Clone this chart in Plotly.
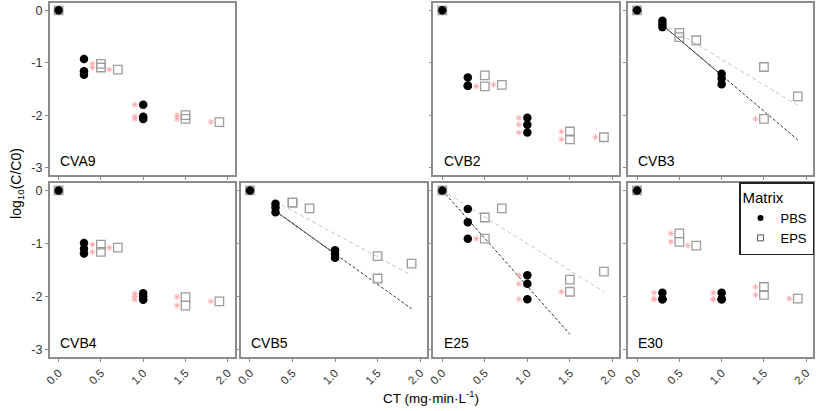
import plotly.graph_objects as go

# ---------------- data ----------------
PANELS = ["CVA9", "CVB2", "CVB3", "CVB4", "CVB5", "E25", "E30"]

PBS_CT = [0, 0.3, 0.3, 0.3, 1.0, 1.0, 1.0]
EPS_CT = [0, 0.5, 0.5, 0.7, 1.5, 1.5, 1.9]

PBS_LOG = {
    "CVA9": [0, -0.93, -1.16, -1.23, -1.80, -2.03, -2.07],
    "CVB2": [0, -1.28, -1.44, -1.44, -2.05, -2.18, -2.33],
    "CVB3": [0, -0.20, -0.26, -0.32, -1.21, -1.30, -1.41],
    "CVB4": [0, -0.99, -1.10, -1.19, -1.94, -2.00, -2.06],
    "CVB5": [0, -0.25, -0.32, -0.41, -1.13, -1.20, -1.27],
    "E25":  [0, -0.35, -0.60, -0.91, -1.60, -1.76, -2.05],
    "E30":  [0, -1.93, -2.05, -2.05, -1.93, -2.05, -2.05],
}
EPS_LOG = {
    "CVA9": [0, -1.02, -1.09, -1.13, -2.00, -2.07, -2.13],
    "CVB2": [0, -1.24, -1.45, -1.42, -2.31, -2.46, -2.42],
    "CVB3": [0, -0.43, -0.51, -0.57, -1.08, -2.07, -1.64],
    "CVB4": [0, -1.02, -1.16, -1.08, -2.01, -2.17, -2.09],
    "CVB5": [0, -0.23, -0.23, -0.34, -1.24, -1.66, -1.38],
    "E25":  [0, -0.51, -0.91, -0.34, -1.68, -1.91, -1.53],
    "E30":  [0, -0.81, -0.97, -1.04, -1.82, -1.97, -2.04],
}
# significance flags (asterisk drawn beside the point)
PBS_SIG = {
    "CVA9": [0, 0, 0, 0, 1, 1, 1],
    "CVB2": [0, 0, 0, 0, 1, 1, 1],
    "CVB3": [0, 0, 0, 0, 0, 0, 0],
    "CVB4": [0, 0, 0, 0, 1, 1, 1],
    "CVB5": [0, 0, 0, 0, 0, 0, 0],
    "E25":  [0, 0, 0, 0, 1, 1, 1],
    "E30":  [0, 1, 1, 1, 1, 1, 1],
}
EPS_SIG = {
    "CVA9": [0, 1, 1, 1, 1, 1, 1],
    "CVB2": [0, 0, 1, 1, 1, 1, 1],
    "CVB3": [0, 0, 0, 0, 0, 1, 0],
    "CVB4": [0, 1, 1, 1, 1, 1, 1],
    "CVB5": [0, 0, 0, 0, 0, 0, 0],
    "E25":  [0, 0, 1, 0, 0, 1, 0],
    "E30":  [0, 1, 1, 1, 1, 1, 1],
}
# fitted lines: [ct_start, ct_end, log_start, log_end]
FIT_PBS = {
    "CVB3": [0.3, 1.9, -0.28, -2.47],
    "CVB5": [0.3, 1.9, -0.39, -2.23],
    "E25":  [0.0, 1.5, 0.0, -2.71],
}
FIT_EPS = {
    "CVB3": [0.3, 1.9, -0.25, -1.81],
    "CVB5": [0.3, 1.9, -0.21, -1.60],
    "E25":  [0.0, 1.9, 0.0, -1.91],
}
SOLID_UNTIL = {"CVB3": 1.0, "CVB5": 1.0}

X_TICKS = [0, 0.5, 1.0, 1.5, 2.0]
X_TICK_TEXT = ["0.0", "0.5", "1.0", "1.5", "2.0"]
Y_TICKS = [0, -1, -2, -3]
Y_TICK_TEXT = ["0", "-1", "-2", "-3"]

# ---------------- layout geometry ----------------
W, H = 817, 411
COLS_PX = [(45, 231), (237.5, 424.5), (431, 618), (627, 813)]
ROWS_PX = [(3, 175), (183, 357)]
POS = {"CVA9": (0, 0), "CVB2": (0, 2), "CVB3": (0, 3),
       "CVB4": (1, 0), "CVB5": (1, 1), "E25": (1, 2), "E30": (1, 3)}

FONT = "Arial, Liberation Sans, sans-serif"
BORDER = "#8c8c8c"
STAR = "#ffabab"
STAR_OFFSET = 0.1

fig = go.Figure()
layout = {}

for i, name in enumerate(PANELS, start=1):
    r, c = POS[name]
    xs = "x" if i == 1 else f"x{i}"
    ys = "y" if i == 1 else f"y{i}"
    xk = "xaxis" if i == 1 else f"xaxis{i}"
    yk = "yaxis" if i == 1 else f"yaxis{i}"
    x0, x1 = COLS_PX[c]
    y0, y1 = ROWS_PX[r]
    layout[xk] = dict(
        domain=[x0 / W, x1 / W], anchor=ys, range=[-0.105, 2.08],
        showline=True, mirror=True, linecolor=BORDER, linewidth=1.5,
        ticks="outside", ticklen=3, tickcolor=BORDER, tickwidth=1,
        tickvals=X_TICKS, ticktext=X_TICK_TEXT, tickangle=-45,
        showticklabels=(r == 1), showgrid=False, zeroline=False,
        tickfont=dict(size=11.5, color="#333333", family=FONT),
    )
    layout[yk] = dict(
        domain=[1 - y1 / H, 1 - y0 / H], anchor=xs, range=[-3.14, 0.14],
        showline=True, mirror=True, linecolor=BORDER, linewidth=1.5,
        ticks="outside", ticklen=3, tickcolor=BORDER, tickwidth=1,
        tickvals=Y_TICKS, ticktext=Y_TICK_TEXT,
        showticklabels=(c == 0), showgrid=False, zeroline=False,
        tickfont=dict(size=12.5, color="#333333", family=FONT),
    )

    # fitted lines
    if name in FIT_EPS:
        a, b, ya, yb = FIT_EPS[name]
        fig.add_trace(go.Scatter(x=[a, b], y=[ya, yb], mode="lines", xaxis=xs, yaxis=ys,
                                 line=dict(color="#c4c4c4", width=1, dash="4px,3px"),
                                 showlegend=False, hoverinfo="skip"))
    if name in FIT_PBS:
        a, b, ya, yb = FIT_PBS[name]
        fig.add_trace(go.Scatter(x=[a, b], y=[ya, yb], mode="lines", xaxis=xs, yaxis=ys,
                                 line=dict(color="#333333", width=1, dash="3px,2px"),
                                 showlegend=False, hoverinfo="skip"))
        if name in SOLID_UNTIL:
            e = SOLID_UNTIL[name]
            ye = ya + (yb - ya) * (e - a) / (b - a)
            fig.add_trace(go.Scatter(x=[a, e], y=[ya, ye], mode="lines", xaxis=xs, yaxis=ys,
                                     line=dict(color="#444444", width=0.9),
                                     showlegend=False, hoverinfo="skip"))

    # EPS squares
    fig.add_trace(go.Scatter(
        x=EPS_CT, y=EPS_LOG[name], mode="markers", xaxis=xs, yaxis=ys,
        marker=dict(symbol="square-open", size=8.5, color="#9c9c9c",
                    line=dict(color="#9c9c9c", width=1.3)),
        showlegend=False, name="EPS"))
    # PBS circles
    fig.add_trace(go.Scatter(
        x=PBS_CT, y=PBS_LOG[name], mode="markers", xaxis=xs, yaxis=ys,
        marker=dict(symbol="circle", size=8.5, color="black"),
        showlegend=False, name="PBS"))
    # asterisks
    sx, sy = [], []
    for ct, v, s in zip(PBS_CT, PBS_LOG[name], PBS_SIG[name]):
        if s:
            sx.append(ct - STAR_OFFSET); sy.append(v)
    for ct, v, s in zip(EPS_CT, EPS_LOG[name], EPS_SIG[name]):
        if s:
            sx.append(ct - STAR_OFFSET); sy.append(v)
    if sx:
        fig.add_trace(go.Scatter(
            x=sx, y=sy, mode="markers", xaxis=xs, yaxis=ys,
            marker=dict(symbol="asterisk-open", size=5, color=STAR,
                        line=dict(color=STAR, width=1)),
            showlegend=False, hoverinfo="skip"))

    fig.add_annotation(text=name, xref=f"{xs} domain", yref=f"{ys} domain",
                       x=0.045, y=0.025, xanchor="left", yanchor="bottom",
                       showarrow=False, font=dict(size=14, color="black", family=FONT))

# legend-only traces
fig.add_trace(go.Scatter(x=[None], y=[None], mode="markers", name="PBS",
                         marker=dict(symbol="circle", size=6, color="black")))
fig.add_trace(go.Scatter(x=[None], y=[None], mode="markers", name="EPS",
                         marker=dict(symbol="square-open", size=6, color="#555555",
                                     line=dict(color="#555555", width=1))))

fig.add_annotation(text="log<sub>10</sub>(C/C0)", xref="paper", yref="paper",
                   x=12 / W, y=1 - 183 / H, textangle=-90, showarrow=False,
                   xanchor="center", yanchor="middle",
                   font=dict(size=14, color="black", family=FONT))
fig.add_annotation(text="CT (mg·min·L<sup>-1</sup>)", xref="paper", yref="paper",
                   x=429 / W, y=1 - 397 / H, showarrow=False,
                   xanchor="center", yanchor="middle",
                   font=dict(size=13.5, color="black", family=FONT))

fig.update_layout(
    width=W, height=H, margin=dict(l=0, r=0, t=0, b=0),
    paper_bgcolor="white", plot_bgcolor="white",
    font=dict(family=FONT, color="black"),
    legend=dict(x=814 / W, y=1 - 182 / H, xanchor="right", yanchor="top",
                bgcolor="white", bordercolor="#222222", borderwidth=1.5,
                title=dict(text="Matrix", font=dict(size=15, family=FONT)),
                font=dict(size=13, family=FONT), itemwidth=30,
                tracegroupgap=2),
    **layout,
)

fig.write_html("out.html", config={"displayModeBar": False},
               post_script="document.body.style.margin='0';")
